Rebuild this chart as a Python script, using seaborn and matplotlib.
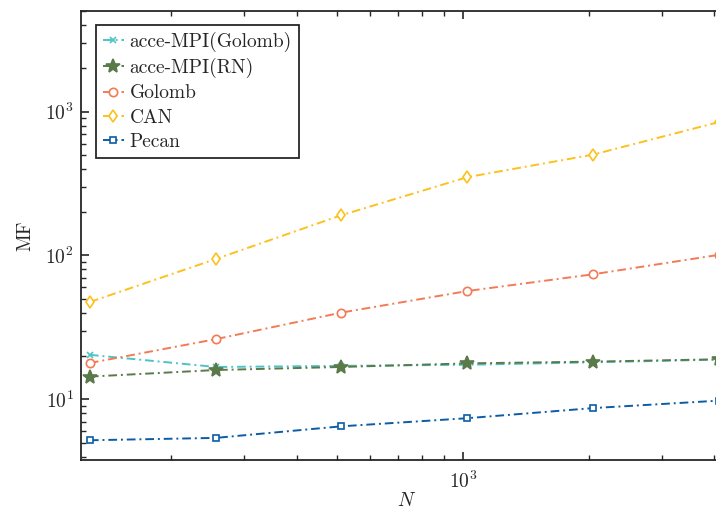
import matplotlib
matplotlib.use("Agg")
from matplotlib import pyplot as plt
import numpy as np
import pandas as pd
import seaborn as sns

# problem sizes (x axis) and MF values per method
N = [128, 256, 512, 1024, 2048, 4096]
acce_golomb = [20.4, 16.8, 17.1, 17.4, 18.1, 18.9]
acce_rn = [14.4, 16.0, 16.8, 17.8, 18.3, 19.0]
golomb = [17.9, 26.2, 40.1, 56.6, 74.0, 101.0]
can = [47.5, 94.4, 190.5, 350.0, 502.0, 845.0]
pecan = [5.2, 5.4, 6.5, 7.4, 8.7, 9.8]

labels = ["acce-MPI(Golomb)", "acce-MPI(RN)", "Golomb", "CAN", "Pecan"]
series = [acce_golomb, acce_rn, golomb, can, pecan]
colors = ["#4dc3c6", "#5b7a4a", "#f47a55", "#fcc11c", "#0b5ca6"]
markers = ["x", "*", "o", "d", "s"]
msizes = [4, 10, 6, 6, 5]

sns.set_style("ticks")
plt.rcParams["font.family"] = ["cmr10", "DejaVu Serif"]
plt.rcParams["mathtext.fontset"] = "cm"
plt.rcParams["axes.unicode_minus"] = False
plt.rcParams["axes.formatter.use_mathtext"] = True

fig = plt.figure(figsize=(7.16, 5.19), dpi=100)
# axes runs a bit past the right edge of the picture, like the original crop
ax = fig.add_axes([80.7 / 716, 59.3 / 519, 651 / 716, 448.7 / 519])

dash = (0, (4.5, 2, 1, 2))
for lab, vals, c, m, ms in zip(labels, series, colors, markers, msizes):
    df = pd.DataFrame({"N": N, "MF": vals})
    sns.lineplot(data=df, x="N", y="MF", ax=ax, color=c, marker=m, markersize=ms,
                 markerfacecolor="white" if m not in ("x", "*") else c,
                 markeredgecolor=c, markeredgewidth=1.2, linewidth=1.4,
                 linestyle=dash, label=lab)

ax.set_xscale("log")
ax.set_yscale("log")
ax.set_xlim(121.7, 4400)
ax.set_ylim(3.81, 5000)

for side in ["top", "right", "bottom", "left"]:
    ax.spines[side].set_visible(True)
    ax.spines[side].set_linewidth(1.3)
    ax.spines[side].set_color("#262626")
ax.tick_params(which="both", direction="in", top=True, right=True, colors="#262626",
               labelsize=14)
ax.tick_params(which="major", length=6, width=1.2)
ax.tick_params(which="minor", length=3.5, width=1.0)
ax.tick_params(axis="x", pad=8)
ax.tick_params(axis="y", pad=5)

ax.set_xlabel(r"$N$", fontsize=14, labelpad=0)
ax.set_ylabel("MF", fontsize=14, labelpad=8)

leg = ax.legend(loc="upper left", bbox_to_anchor=(15 / 651, 1 - 14 / 449), fontsize=14,
                frameon=True, fancybox=False, edgecolor="#262626", borderaxespad=0,
                handlelength=1.1, handletextpad=0.3, borderpad=0.35, labelspacing=0.32)
leg.get_frame().set_linewidth(1.3)
leg.get_frame().set_alpha(1)

fig.savefig("out.png", dpi=100)
